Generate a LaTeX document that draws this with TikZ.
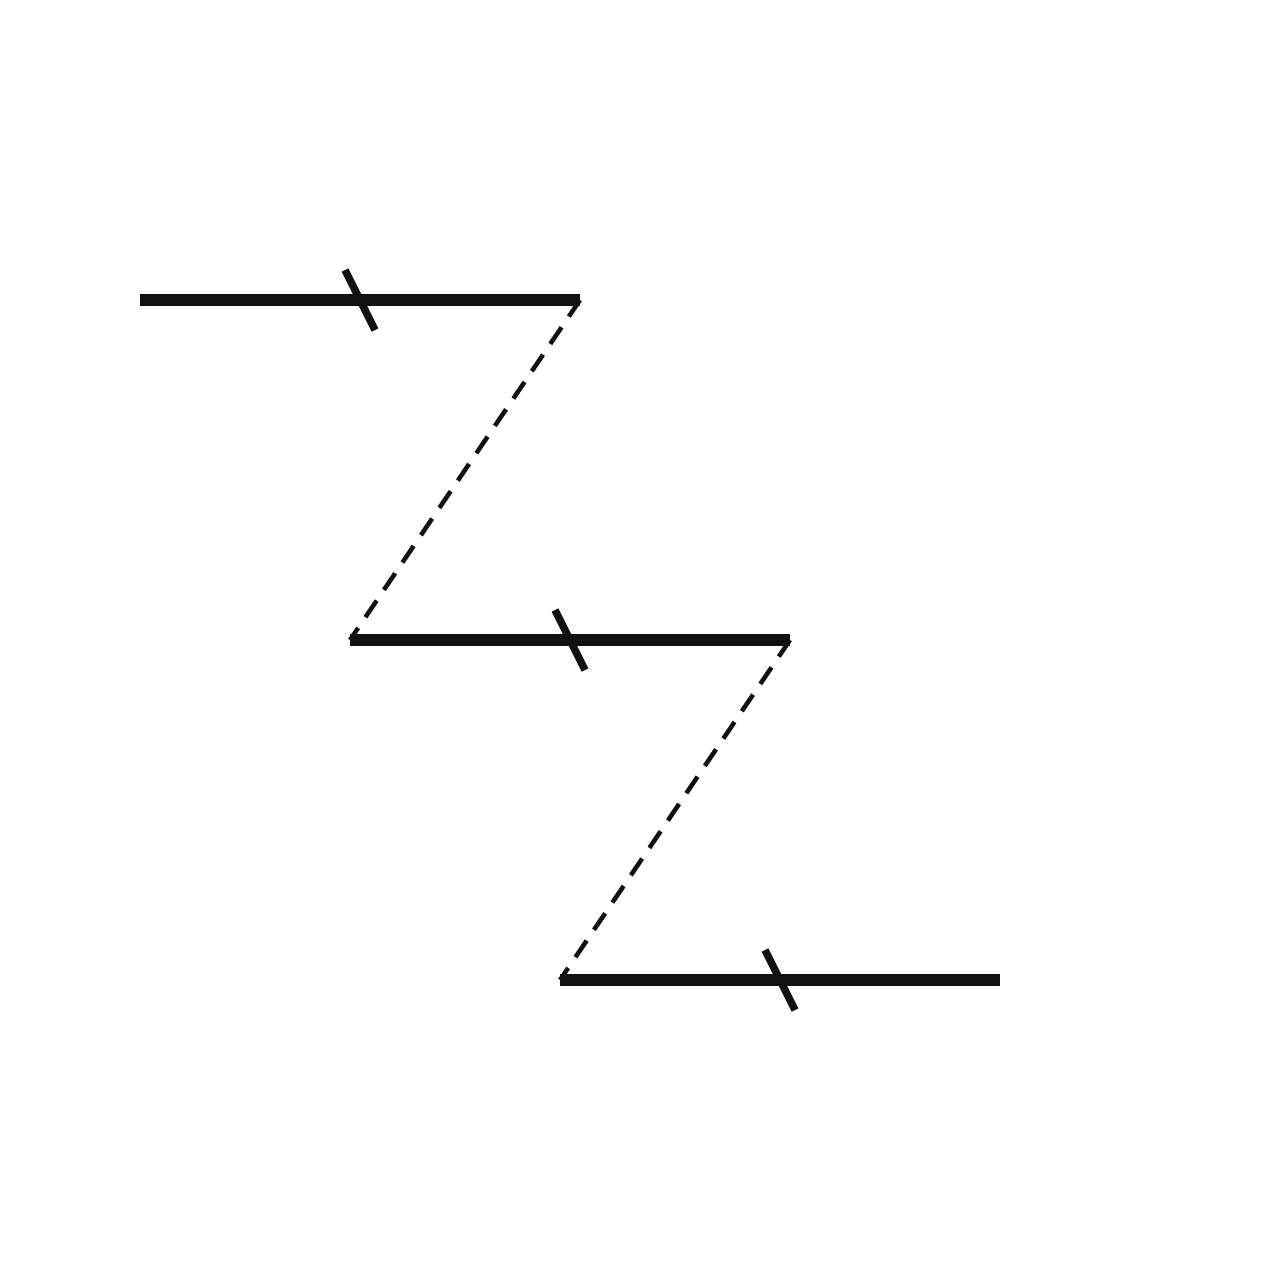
\documentclass[tikz,border=0pt]{standalone}
\definecolor{ink}{HTML}{111111}
\begin{document}
\begin{tikzpicture}[x=0.02cm,y=-0.02cm,
  bar/.style={draw=ink,line width=0.24cm},
  tick/.style={draw=ink,line width=0.15cm},
  link/.style={draw=ink,line width=0.09cm,dash pattern=on 0.4cm off 0.26cm}]
\useasboundingbox (0,0) rectangle (1280,1280);
\coordinate (a1) at (140,300); \coordinate (b1) at (580,300);
\coordinate (a2) at (350,640); \coordinate (b2) at (790,640);
\coordinate (a3) at (560,980); \coordinate (b3) at (1000,980);
\coordinate (t1s) at (345,270); \coordinate (t1e) at (375,330);
\coordinate (t2s) at (555,610); \coordinate (t2e) at (585,670);
\coordinate (t3s) at (765,950); \coordinate (t3e) at (795,1010);
\path[link] (b1) -- (a2);
\path[link] (b2) -- (a3);
\path[bar] (a1) -- (b1);
\path[bar] (a2) -- (b2);
\path[bar] (a3) -- (b3);
\path[tick] (t1s) -- (t1e);
\path[tick] (t2s) -- (t2e);
\path[tick] (t3s) -- (t3e);
\end{tikzpicture}
\end{document}
